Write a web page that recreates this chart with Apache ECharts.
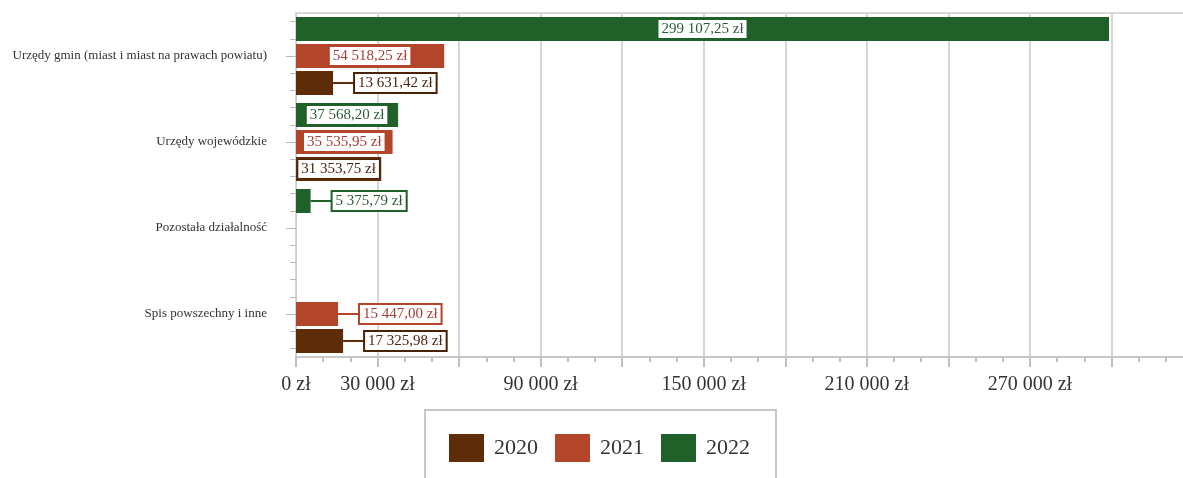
<!DOCTYPE html>
<html><head><meta charset="utf-8">
<script src="https://cdn.jsdelivr.net/npm/echarts@6/dist/echarts.min.js"></script>
<style>html,body{margin:0;padding:0;background:#fff}#c{width:1183px;height:478px}</style>
</head><body><div id="c"></div>
<script>
const categories = ['Urzędy gmin (miast i miast na prawach powiatu)', 'Urzędy wojewódzkie', 'Pozostała działalność', 'Spis powszechny i inne'];
const years = ['2020', '2021', '2022'];
const values2020 = [13631.42, 31353.75, null, 17325.98];
const values2021 = [54518.25, 35535.95, null, 15447.00];
const values2022 = [299107.25, 37568.20, 5375.79, null];
const xTickLabels = [0, 30000, 90000, 150000, 210000, 270000];
const subTicks = Array.from({length: 20}, (_, i) => 't' + i);

const colors = {'2020': '#5e2c08', '2021': '#b3452a', '2022': '#1f6129'};
const textColors = {'2020': '#4a2410', '2021': '#a33f34', '2022': '#2a5a38'};
const borderColors = {'2020': '#4a2208', '2021': '#b3452a', '2022': '#1f6129'};

function fmt(v) {
  const s = v.toFixed(2);
  const parts = s.split('.');
  return parts[0].replace(/\B(?=(\d{3})+(?!\d))/g, ' ') + ',' + parts[1] + ' zł';
}
function fmtInt(v) {
  return String(Math.round(v)).replace(/\B(?=(\d{3})+(?!\d))/g, ' ') + ' zł';
}

function item(v, year) {
  if (v == null) return null;
  const inside = v > 25000;
  const box = {
    color: textColors[year], backgroundColor: '#fff', borderColor: borderColors[year],
    borderWidth: inside ? 1 : 2, padding: [2, 3, 1, 3],
    fontFamily: 'Liberation Serif', fontSize: 15, lineHeight: 15
  };
  if (inside) {
    return {value: v, label: Object.assign({show: true, position: 'inside', formatter: fmt(v)}, box)};
  }
  return {
    value: v,
    label: {
      show: true, position: 'right', distance: 0,
      formatter: '{ln|}{bx|' + fmt(v) + '}',
      rich: {ln: {width: 22, height: 2, backgroundColor: colors[year]}, bx: box}
    }
  };
}

function makeSeries(year, vals) {
  return {
    name: year, type: 'bar', barWidth: 24, barGap: '12.5%',
    itemStyle: {color: colors[year]},
    data: vals.map(v => item(v, year))
  };
}

const chart = echarts.init(document.getElementById('c'), null, {renderer: 'canvas'});
chart.setOption({
  animation: false,
  backgroundColor: '#fff',
  grid: {left: 296, top: 13, width: 897, height: 344, outerBoundsMode: 'none', containLabel: false,
         show: true, borderColor: '#d8d8d8', borderWidth: 2, backgroundColor: 'transparent'},
  legend: {
    data: years, left: 425, top: 410, orient: 'horizontal', icon: 'rect',
    itemWidth: 35, itemHeight: 28, itemGap: 17, padding: [24, 26, 24, 24],
    backgroundColor: '#fff', borderColor: '#c8c8c8', borderWidth: 2,
    textStyle: {fontSize: 22, fontFamily: 'Liberation Serif', color: '#333', padding: [0, 0, 0, 5]}
  },
  xAxis: {
    type: 'value', min: 0, max: 330000, interval: 30000,
    axisLine: {show: true, lineStyle: {color: '#c8c8c8', width: 2}},
    axisTick: {show: true, length: 10, lineStyle: {color: '#c0c0c0', width: 2}},
    minorTick: {show: true, splitNumber: 3, length: 5, lineStyle: {color: '#c0c0c0', width: 2}},
    axisLabel: {
      margin: 18, fontSize: 20, fontFamily: 'Liberation Serif', color: '#333',
      formatter: v => xTickLabels.includes(v) ? fmtInt(v) : ''
    },
    splitLine: {show: true, lineStyle: {color: '#d6d6d6', width: 2}}
  },
  yAxis: [{
    type: 'category', data: categories, inverse: true, position: 'left',
    axisLine: {show: true, lineStyle: {color: '#cccccc', width: 1}},
    axisTick: {show: true, alignWithLabel: true, length: 10, lineStyle: {color: '#b8b8b8'}},
    axisLabel: {margin: 29, fontSize: 13, fontFamily: 'Liberation Serif', color: '#333'},
    splitLine: {show: false}
  }, {
    type: 'category', data: subTicks, position: 'left',
    axisLine: {show: false},
    axisTick: {show: true, alignWithLabel: true, interval: 0, length: 6, lineStyle: {color: '#b8b8b8'}},
    axisLabel: {show: false, interval: 0},
    splitLine: {show: false}
  }],
  series: [
    makeSeries('2022', values2022),
    makeSeries('2021', values2021),
    makeSeries('2020', values2020)
  ]
});
</script></body></html>
